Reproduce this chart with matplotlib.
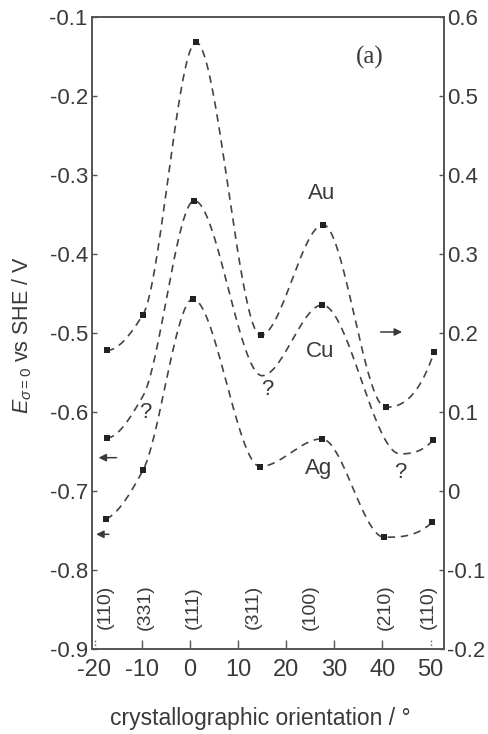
import numpy as np
import matplotlib
matplotlib.use("Agg")
import matplotlib.pyplot as plt

plt.rcParams['font.family'] = ['Liberation Sans', 'DejaVu Sans']
plt.rcParams['mathtext.fontset'] = 'custom'
plt.rcParams['mathtext.rm'] = 'Liberation Sans'
plt.rcParams['mathtext.it'] = 'Liberation Sans:italic'

INK = '#3a3a3a'

# orientation angle (deg) of each face and potential of zero charge (V vs SHE)
au_x = [-17.3, -9.8, 1.25, 14.7, 27.7, 40.7, 50.8]
au_y = [0.178, 0.223, 0.568, 0.197, 0.337, 0.106, 0.176]      # right axis

cu_x = [-17.3, -9.8, 0.9, 15.0, 27.5, 43.7, 50.5]
cu_y = [-0.633, -0.580, -0.3325, -0.554, -0.4645, -0.653, -0.636]
cu_measured = [True, False, True, False, True, False, True]

ag_x = [-17.5, -9.8, 0.6, 14.6, 27.4, 40.4, 50.4]
ag_y = [-0.7355, -0.674, -0.457, -0.669, -0.634, -0.7585, -0.7395]

face_labels = ['(110)', '(331)', '(111)', '(311)', '(100)', '(210)', '(110)']
face_x = [-17.7, -9.4, 0.6, 13.1, 25.1, 40.7, 49.5]


def pchip(x, y, xs):
    x = np.asarray(x, float)
    y = np.asarray(y, float)
    h = np.diff(x)
    d = np.diff(y) / h
    n = len(x)
    m = np.zeros(n)
    for k in range(1, n - 1):
        if d[k - 1] * d[k] > 0:
            w1 = 2 * h[k] + h[k - 1]
            w2 = h[k] + 2 * h[k - 1]
            m[k] = (w1 + w2) / (w1 / d[k - 1] + w2 / d[k])

    def end_slope(h0, h1, d0, d1):
        s = ((2 * h0 + h1) * d0 - h0 * d1) / (h0 + h1)
        if np.sign(s) != np.sign(d0):
            return 0.0
        if np.sign(d0) != np.sign(d1) and abs(s) > 3 * abs(d0):
            return 3 * d0
        return s

    m[0] = end_slope(h[0], h[1], d[0], d[1])
    m[-1] = end_slope(h[-1], h[-2], d[-1], d[-2])
    idx = np.clip(np.searchsorted(x, xs) - 1, 0, n - 2)
    t = (xs - x[idx]) / h[idx]
    h00 = 2 * t**3 - 3 * t**2 + 1
    h10 = t**3 - 2 * t**2 + t
    h01 = -2 * t**3 + 3 * t**2
    h11 = t**3 - t**2
    return (h00 * y[idx] + h10 * h[idx] * m[idx]
            + h01 * y[idx + 1] + h11 * h[idx] * m[idx + 1])


def draw_series(ax, x, y, measured=None):
    xs = np.linspace(x[0], x[-1], 400)
    ax.plot(xs, pchip(x, y, xs), color='#444444', lw=1.2,
            linestyle=(0, (4.5, 3.4)))
    if measured is None:
        measured = [True] * len(x)
    mx = [a for a, k in zip(x, measured) if k]
    my = [b for b, k in zip(y, measured) if k]
    ax.plot(mx, my, 's', color='#222222', ms=3.8, mew=0)


fig = plt.figure(figsize=(4.89, 7.34), dpi=100)
ax = fig.add_axes([0.188, 0.1158, 0.72, 0.861])
ax2 = ax.twinx()

ax.set_xlim(-20.4, 52.85)
ax.set_ylim(-0.9, -0.1)
ax2.set_ylim(-0.2, 0.6)

draw_series(ax, cu_x, cu_y, cu_measured)
draw_series(ax, ag_x, ag_y)
draw_series(ax2, au_x, au_y)

for sp in list(ax.spines.values()) + list(ax2.spines.values()):
    sp.set_color('#555555')
    sp.set_linewidth(1.2)

ax.set_xticks(np.arange(-20, 51, 10))
ax.set_xticklabels([str(v) for v in range(-20, 51, 10)])
ax.set_yticks(np.round(np.arange(-0.9, -0.05, 0.1), 1))
ax.set_yticklabels([f'{v:.1f}' for v in np.arange(-0.9, -0.05, 0.1)])
ax2.set_yticks(np.round(np.arange(-0.2, 0.65, 0.1), 1))
ax2.set_yticklabels(['-0.2', '-0.1', '0', '0.1', '0.2', '0.3', '0.4', '0.5', '0.6'])

ax.tick_params(axis='x', direction='in', length=6.5, width=1, colors='#555555',
               labelcolor=INK, labelsize=17, pad=7)
ax.tick_params(axis='y', direction='in', length=3.6, width=1, colors='#555555',
               labelcolor=INK, labelsize=16, pad=3)
ax2.tick_params(axis='y', direction='in', length=3.6, width=1, colors='#555555',
                labelcolor=INK, labelsize=16, pad=2)
for i in (0, len(ax.xaxis.get_major_ticks()) - 1):
    ax.xaxis.get_major_ticks()[i].tick1line.set_visible(False)

# dotted marks at the (110) ends
ax.vlines([-19.8, 50.1], -0.9, -0.888, colors='#555555', linestyles=':', lw=1)

for lab, fx in zip(face_labels, face_x):
    ax.text(fx, -0.847, lab, rotation=90, ha='center', va='center',
            fontsize=14, color=INK)

ax.text(37.5, -0.151, '(a)', family=['Liberation Serif', 'DejaVu Serif'],
        fontsize=18, color=INK, ha='center', va='center')
ax.text(27.4, -0.323, 'Au', fontsize=16, color=INK, ha='center', va='center')
ax.text(27.0, -0.524, 'Cu', fontsize=16, color=INK, ha='center', va='center')
ax.text(26.8, -0.671, 'Ag', fontsize=16, color=INK, ha='center', va='center')
for qx, qy in [(-9.2, -0.600), (16.0, -0.572), (43.8, -0.676)]:
    ax.text(qx, qy, '?', fontsize=16, color=INK, ha='center', va='center')

arrow = dict(arrowstyle='-|>', color=INK, lw=1.1, mutation_scale=11)
ax.annotate('', xy=(44.7, -0.4987), xytext=(39.1, -0.4987), arrowprops=arrow)
ax.annotate('', xy=(-19.6, -0.6578), xytext=(-14.7, -0.6578), arrowprops=arrow)
ax.annotate('', xy=(-20.1, -0.7548), xytext=(-16.3, -0.7548), arrowprops=arrow,
            annotation_clip=False)

fig.text(22 / 489, 1 - 335 / 734, r'$E_{\sigma=0}$ vs SHE / V', rotation=90,
         ha='center', va='center', fontsize=15.5, color=INK)
fig.text(260 / 489, 1 - 718 / 734, 'crystallographic orientation / °',
         ha='center', va='center', fontsize=16.5, color=INK)

fig.savefig('out.png', dpi=100)
